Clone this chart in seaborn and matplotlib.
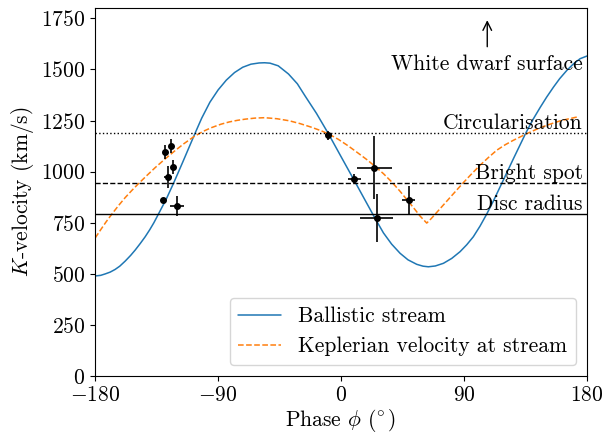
import matplotlib
matplotlib.use('Agg')
import matplotlib.pyplot as plt
import seaborn as sns

# ballistic stream velocity
blue_phase = [-180, -176, -172.7, -169, -165.4, -162, -158, -154, -150.7, -147, -143.4, -140,
              -137, -133.7, -128, -122.7, -116, -107, -102, -96, -90, -84, -78, -72, -66, -60,
              -56, -52, -46, -38.5, -32, -26.3, -18, -9.3, 0, 10.2, 17, 24.9, 31, 37, 43.2, 49,
              55.4, 60, 63.9, 69, 74.9, 81, 87.1, 92, 96.8, 101.7, 106.6, 111.4, 117.6, 126.2,
              135, 140, 145.8, 150.5, 155.5, 160, 165.3, 170, 175, 180]
blue_k = [489, 492, 499, 508, 521, 537, 562, 590, 616, 648, 681, 716,
          750, 792, 865, 942, 1045, 1186, 1262, 1340, 1400, 1448, 1485, 1511, 1526, 1532,
          1533, 1531, 1518, 1478, 1430, 1370, 1285, 1186, 1073, 950, 867, 771, 700, 645, 600, 568,
          546, 537, 534, 538, 551, 575, 608, 642, 681, 733, 792, 855, 942, 1064,
          1186, 1250, 1315, 1365, 1414, 1455, 1496, 1527, 1553, 1566]

# Keplerian velocity at stream
kep_phase = [-180, -176, -172, -168, -163, -158, -153, -148, -142, -136, -129, -122, -115, -108,
             -101, -95, -88, -82, -76, -70, -63, -56, -47, -38, -30, -22, -15, -9, -2, 5, 12, 19,
             25, 31, 36.7, 43, 49, 54, 58, 61, 62.7, 66, 70, 76, 82, 89.5, 95, 101.7, 108, 114,
             120, 126, 136, 143, 150.6, 161, 172.5]
kep_k = [675, 715, 754, 790, 833, 873, 909, 943, 982, 1020, 1061, 1100, 1137, 1170,
         1197, 1215, 1232, 1243, 1251, 1257, 1262, 1264, 1259, 1249, 1235, 1218, 1201, 1184, 1158, 1127, 1093, 1058,
         1025, 990, 952, 905, 856, 815, 781, 760, 748, 770, 800, 845, 890, 946, 985, 1031, 1070, 1105,
         1131, 1153, 1186, 1207, 1227, 1250, 1267]

# observed points
obs_phase = [-130.0, -128.8, -124.6, -126.8, -123.2, -120.2, -9.3, 9.8, 24.4, 26.1, 49.6]
obs_k = [860, 1096, 1126, 974, 1023, 834, 1178, 966, 1020, 771, 860]
obs_dphase = [0.5, 0.8, 0.8, 2.8, 0.8, 5.0, 2.7, 4.6, 12.6, 12.0, 4.8]
obs_dk = [5, 33, 35, 52, 34, 49, 22, 20, 154, 118, 68]

levels = [1188, 942, 792]
level_styles = [':', '--', '-']
level_names = ['Circularisation', 'Bright spot', 'Disc radius']

sns.set_style('ticks', {'axes.edgecolor': 'black', 'xtick.color': 'black', 'ytick.color': 'black',
                        'text.color': 'black', 'axes.labelcolor': 'black'})
plt.rcParams['font.family'] = ['cmr10', 'DejaVu Serif']
plt.rcParams['mathtext.fontset'] = 'cm'
plt.rcParams['axes.formatter.use_mathtext'] = True
plt.rcParams['font.size'] = 15.5
plt.rcParams['axes.unicode_minus'] = True

fig, ax = plt.subplots(figsize=(6.14, 4.33), dpi=100)
fig.subplots_adjust(left=0.155, right=0.956, top=0.981, bottom=0.132)

sns.lineplot(x=blue_phase, y=blue_k, ax=ax, color='#1f77b4', lw=1.1, sort=False,
             estimator=None, label='Ballistic stream')
sns.lineplot(x=kep_phase, y=kep_k, ax=ax, color='#ff7f0e', lw=1.1, ls='--', sort=False,
             estimator=None, label='Keplerian velocity at stream')

for lev, st, name in zip(levels, level_styles, level_names):
    ax.axhline(lev, color='k', ls=st, lw=1)
    ax.text(177, lev + 22, name, ha='right', va='baseline')

ax.errorbar(obs_phase, obs_k, xerr=obs_dphase, yerr=obs_dk, fmt='o', color='k', ms=4,
            elinewidth=1.2, capsize=0)

ax.text(177, 1497, 'White dwarf surface', ha='right', va='baseline')
ax.annotate('', xy=(107, 1755), xytext=(107, 1598),
            arrowprops=dict(arrowstyle='->', color='k', lw=1))

ax.set_xlim(-180, 180)
ax.set_ylim(0, 1800)
ax.set_xticks([-180, -90, 0, 90, 180])
ax.set_yticks(range(0, 1751, 250))
ax.set_xlabel(r'Phase $\phi$ ($\!^\circ$)', labelpad=1.5)
ax.set_ylabel(r'$K$-velocity (km/s)')
ax.legend(loc='lower right')

plt.savefig('out.png', dpi=100)
